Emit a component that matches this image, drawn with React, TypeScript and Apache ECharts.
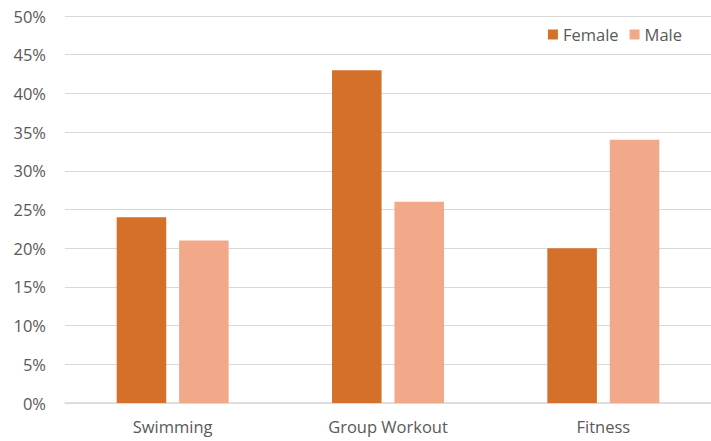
import React, { useEffect, useRef } from "react";
import * as echarts from "echarts";

const categories = ["Swimming", "Group Workout", "Fitness"];
const female = [24, 43, 20];
const male = [21, 26, 34];
const yTicks = { min: 0, max: 50, interval: 5 };

export default function App() {
  const ref = useRef<HTMLDivElement>(null);
  useEffect(() => {
    const chart = echarts.init(ref.current!, null, { renderer: "svg" });
    const font = "'Open Sans', sans-serif";
    chart.setOption({
      animation: false,
      textStyle: { fontFamily: font },
      grid: { left: 65, width: 652, top: 16, bottom: 38 },
      legend: {
        top: 21,
        right: 24,
        itemWidth: 10,
        itemHeight: 10,
        itemGap: 11,
        icon: "rect",
        textStyle: { fontSize: 16.5, color: "#595959", fontFamily: font },
        data: ["Female", "Male"],
      },
      xAxis: {
        type: "category",
        data: categories,
        axisLine: { lineStyle: { color: "#d9d9d9", width: 1.5 } },
        axisTick: { show: false },
        axisLabel: { fontSize: 16.5, color: "#595959", margin: 15, fontFamily: font },
      },
      yAxis: {
        type: "value",
        min: yTicks.min,
        max: yTicks.max,
        interval: yTicks.interval,
        axisLine: { show: false },
        axisTick: { show: false },
        splitLine: { lineStyle: { color: "#d9d9d9", width: 1 } },
        axisLabel: { fontSize: 16.5, color: "#595959", margin: 19, formatter: "{value}%", fontFamily: font },
      },
      series: [
        {
          name: "Female",
          type: "bar",
          data: female,
          itemStyle: { color: "#D4702A" },
          barGap: "26%",
          barCategoryGap: "48%",
        },
        {
          name: "Male",
          type: "bar",
          data: male,
          itemStyle: { color: "#F2A98A" },
        },
      ],
    });
    return () => chart.dispose();
  }, []);
  return <div ref={ref} style={{ width: 711, height: 441, position: "absolute", left: 0, top: 0 }} />;
}
